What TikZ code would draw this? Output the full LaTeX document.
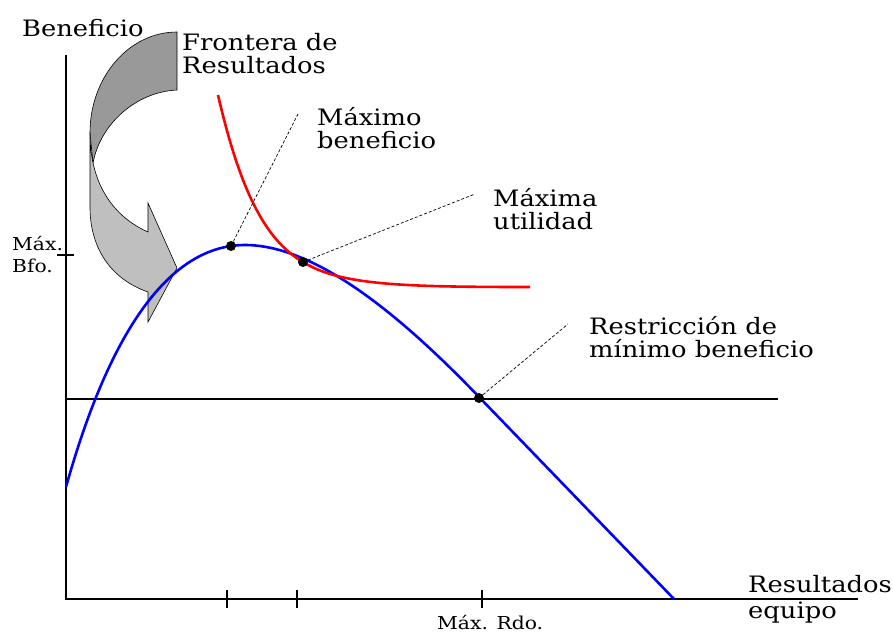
\documentclass[tikz,border=0pt]{standalone}
\usepackage{fontspec}
\setmainfont{DejaVu Serif}[FakeStretch=1.14]
\begin{document}
\begin{tikzpicture}[x=1pt,y=-1pt,
  lbl/.style={font=\fontsize{22.6}{23}\selectfont, inner sep=0pt, align=left, anchor=base west},
  smalllbl/.style={font=\fontsize{17.8}{22}\selectfont, inner sep=0pt, align=left, anchor=base west},
  axisline/.style={line width=1.1pt, black},
  dotnode/.style={circle, fill=black, inner sep=0pt, minimum size=10pt},
  leader/.style={dashed, dash pattern=on 3pt off 2pt, line width=0.7pt},
  curveblue/.style={blue, line width=2.6pt},
  curvered/.style={red, line width=2.6pt},
  arrowdark/.style={fill=black!40, draw=black, line width=0.6pt},
  arrowlight/.style={fill=black!25, draw=black, line width=0.6pt}]
\useasboundingbox (0,0) rectangle (893,634);

% axes
\coordinate (O) at (66,599);
\coordinate (ytop) at (66,55);
\coordinate (xend) at (858,599);
\draw[axisline] (ytop) -- (O) -- (xend);
% ticks
\coordinate (ty1) at (57,255); \coordinate (ty2) at (74,255);
\draw[axisline] (ty1) -- (ty2);
\foreach \xx in {227,297,482}{\draw[axisline] (\xx,590) -- (\xx,608);}
% horizontal restriction line
\coordinate (hl1) at (66,399); \coordinate (hl2) at (778,399);
\draw[line width=1.1pt] (hl1) -- (hl2);

% curved arrow
\draw[arrowdark] (177,32) -- (177,90) .. controls (135,92) and (100,125) .. (93,163)
  -- (90,133) .. controls (90,77) and (129,32) .. (177,32) -- cycle;
\draw[arrowlight] (90,133) -- (90,207) .. controls (90,245) and (108,278) .. (148,292)
  -- (148,322) -- (177,268) -- (148,203) -- (148,232)
  .. controls (110,215) and (90,180) .. (90,133) -- cycle;

% blue curve
\draw[curveblue] (66,487) .. controls (110,330) and (170,245) .. (245,245)
  .. controls (320,245) and (410,325) .. (480,398) -- (674,599);
% red curve
\draw[curvered] (218,95) .. controls (240,190) and (265,240) .. (303,262)
  .. controls (340,285) and (400,287) .. (530,287);

% dots
\node[dotnode] (pmax) at (231,246) {};
\node[dotnode] (pu) at (303,262) {};
\node[dotnode] (pr) at (479,398) {};
\coordinate (lmax) at (298,114);
\coordinate (lu) at (475,194);
\coordinate (lr) at (568,324);
\draw[leader] (pmax) -- (lmax);
\draw[leader] (pu) -- (lu);
\draw[leader] (pr) -- (lr);

% labels (anchor at baseline of last line)
\node[lbl] (benef) at (22,37) {Beneficio};
\node[lbl, font=\fontsize{22.6}{22}\selectfont] (front) at (182,73) {Frontera de\\Resultados};
\node[lbl] (tmax) at (317,148) {Máximo\\beneficio};
\node[lbl] (tut) at (493,229) {Máxima\\utilidad};
\node[lbl] (trest) at (589,357) {Restricción de\\mínimo beneficio};
\node[lbl, font=\fontsize{22.6}{26}\selectfont] (tres) at (748,618) {Resultados\\equipo};
\node[smalllbl] (tbfo) at (12,272) {Máx.\\Bfo.};
\node[smalllbl] (trdo) at (437,629) {Máx. Rdo.};
\end{tikzpicture}
\end{document}
